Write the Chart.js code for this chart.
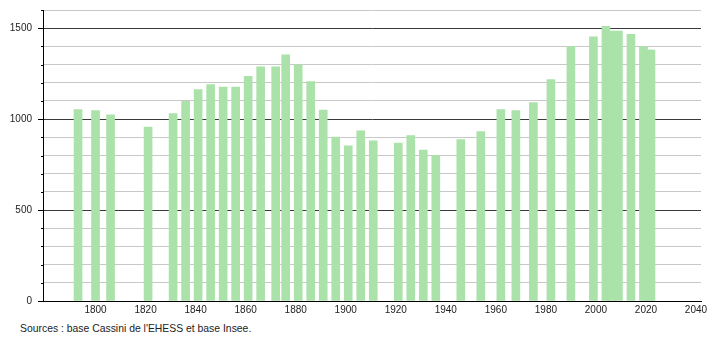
<!DOCTYPE html>
<html>
<head>
<meta charset="utf-8">
<script src="https://cdn.jsdelivr.net/npm/chart.js@4/dist/chart.umd.min.js"></script>
<style>
  html, body { margin: 0; padding: 0; background: #fff; }
  #wrap { position: relative; width: 710px; height: 340px; }
  #c { position: absolute; left: 0; top: 0; }
  #src { position: absolute; left: 20px; top: 323px; font: 10.4px "Liberation Sans", Arial, sans-serif; color: #222; white-space: nowrap; }
</style>
</head>
<body>
<div id="wrap">
  <canvas id="c" width="710" height="321"></canvas>
  <div id="src">Sources : base Cassini de l'EHESS et base Insee.</div>
</div>
<script>
const years = [1793, 1800, 1806, 1821, 1831, 1836, 1841, 1846, 1851, 1856, 1861, 1866, 1872, 1876, 1881, 1886, 1891, 1896, 1901, 1906, 1911, 1921, 1926, 1931, 1936, 1946, 1954, 1962, 1968, 1975, 1982, 1990, 1999, 2004, 2006, 2009, 2014, 2019, 2021, 2022];
const population = [1052, 1047, 1023, 956, 1030, 1098, 1163, 1190, 1176, 1176, 1235, 1288, 1288, 1353, 1299, 1207, 1050, 901, 853, 936, 880, 868, 910, 830, 799, 888, 932, 1052, 1047, 1091, 1218, 1399, 1452, 1510, 1484, 1484, 1466, 1399, 1380, 1380];
const xTickLabels = [1800, 1820, 1840, 1860, 1880, 1900, 1920, 1940, 1960, 1980, 2000, 2020, 2040];
const yMajorTicks = [0, 500, 1000, 1500];

const points = years.map((y, i) => ({ x: y, y: population[i] }));

const yTickPlugin = {
  id: 'yTicks',
  afterDraw(chart) {
    const s = chart.scales.y;
    const ctx = chart.ctx;
    ctx.save();
    ctx.strokeStyle = '#000';
    ctx.lineWidth = 1;
    s.ticks.forEach(t => {
      const py = Math.round(s.getPixelForValue(t.value)) + 0.5;
      const len = yMajorTicks.includes(t.value) ? 5 : 2;
      ctx.beginPath();
      ctx.moveTo(s.right - len, py);
      ctx.lineTo(s.right, py);
      ctx.stroke();
    });
    ctx.restore();
  }
};

new Chart(document.getElementById('c'), {
  type: 'bar',
  data: {
    datasets: [{
      data: points,
      backgroundColor: 'rgb(170,226,170)',
      borderWidth: 0,
      barThickness: 8
    }]
  },
  options: {
    responsive: false,
    animation: false,
    layout: { padding: { top: 10, right: 9, left: 0, bottom: 0 } },
    plugins: { legend: { display: false }, tooltip: { enabled: false } },
    scales: {
      x: {
        type: 'linear',
        min: 1779,
        max: 2042,
        offset: false,
        afterBuildTicks: (scale) => { scale.ticks = xTickLabels.map(v => ({ value: v })); },
        afterFit: (scale) => { scale.height = 20; scale.paddingLeft = 0; scale.paddingRight = 0; },
        grid: { display: false, drawTicks: false },
        border: { display: true, color: '#000', width: 1 },
        ticks: {
          autoSkip: false,
          maxRotation: 0,
          padding: 3,
          color: '#222',
          font: { family: '"Liberation Sans", Arial, sans-serif', size: 10 },
          callback: (v) => String(v)
        }
      },
      y: {
        min: 0,
        max: 1600,
        afterFit: (scale) => { scale.width = 43; scale.paddingTop = 0; scale.paddingBottom = 0; },
        grid: {
          drawTicks: false,
          color: (c) => (c.tick && c.tick.value % 500 === 0) ? '#3a3a3a' : '#c8c8c8',
          lineWidth: 1
        },
        border: { display: true, color: '#000', width: 1 },
        ticks: {
          stepSize: 100,
          padding: 11,
          color: '#222',
          font: { family: '"Liberation Sans", Arial, sans-serif', size: 10 },
          callback: (v) => yMajorTicks.includes(v) ? String(v) : ''
        }
      }
    }
  },
  plugins: [yTickPlugin]
});
</script>
</body>
</html>
